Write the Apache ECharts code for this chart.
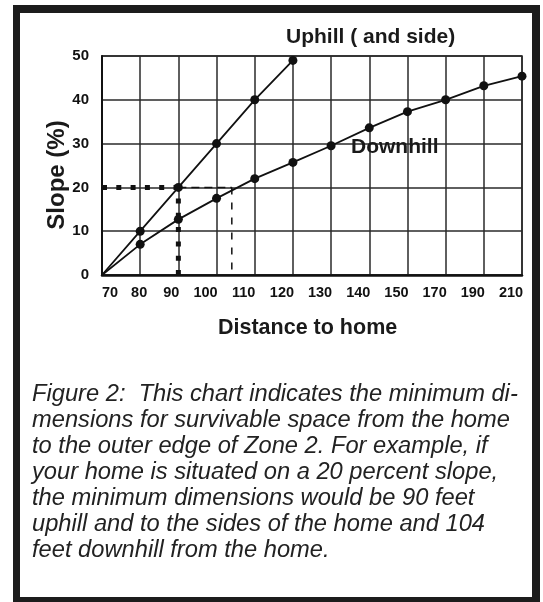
<!DOCTYPE html>
<html>
<head>
<meta charset="utf-8">
<script src="https://cdn.jsdelivr.net/npm/echarts@6/dist/echarts.min.js"></script>
<style>
	html, body {
		margin: 0;
		padding: 0;
		background: #fff;
	}

	#chart {
		position: absolute;
		left: 0;
		top: 0;
		width: 543px;
		height: 602px;
	}

	/*外框*/
	.frame {
		position: absolute;
		left: 13px;
		top: 5px;
		width: 527px;
		height: 597px;
		box-sizing: border-box;
		border-style: solid;
		border-color: #1c1c1c;
		border-width: 8px 8px 5px 7px;
	}

	.caption {
		position: absolute;
		left: 32px;
		top: 380px;
		font-family: "Liberation Sans", Arial, sans-serif;
		font-style: italic;
		font-size: 23.7px;
		line-height: 26px;
		color: #222;
		white-space: pre;
	}
</style>
</head>
<body>
	<div id="chart"></div>
	<div class="frame"></div>
	<div class="caption">Figure 2:  This chart indicates the minimum di-
mensions for survivable space from the home
to the outer edge of Zone 2. For example, if
your home is situated on a 20 percent slope,
the minimum dimensions would be 90 feet
uphill and to the sides of the home and 104
feet downhill from the home.</div>
	<script>
		// x轴刻度（间距相等，但数值不等）
		var distTicks = [70, 80, 90, 100, 110, 120, 130, 140, 150, 170, 190, 210];
		var slopeTicks = [0, 10, 20, 30, 40, 50];

		// 上坡（及两侧）
		var uphillDist = [70, 80, 90, 100, 110, 120];
		var uphillSlope = [0, 10, 20, 30, 40, 49];

		// 下坡
		var downhillDist = [70, 80, 90, 100, 110, 120, 130, 140, 150, 170, 190, 210];
		var downhillSlope = [0, 7, 12.7, 17.5, 22, 25.7, 29.5, 33.6, 37.3, 40, 43.2, 45.4];

		// 示例：20%坡度
		var exampleSlope = 20;
		var exampleUphill = 90;
		var exampleDownhill = 104;

		// 距离 -> 轴上的位置（刻度序号）
		function pos(d) {
			for (var i = 0; i < distTicks.length - 1; i++) {
				if (d <= distTicks[i + 1]) {
					return i + (d - distTicks[i]) / (distTicks[i + 1] - distTicks[i]);
				}
			}
			return distTicks.length - 1;
		}

		function pts(xs, ys) {
			return xs.map(function (d, i) {
				var item = { value: [pos(d), ys[i]] };
				if (d === distTicks[0]) item.symbol = 'none';
				return item;
			});
		}

		function guide(data, width, dash) {
			return {
				type: 'line',
				data: data,
				symbol: 'none',
				silent: true,
				z: 1,
				lineStyle: { color: '#111', width: width, type: dash, cap: 'butt' }
			};
		}

		// 原图刻度文字略偏左
		function tickLabel(v) {
			var i = Math.round(v);
			var key = i <= 1 ? 'a' : (i === 2 ? 'b' : 'c');
			return '{' + key + '|' + distTicks[i] + '}';
		}

		var boldFont = '"Liberation Sans", Arial, sans-serif';
		var chart = echarts.init(document.getElementById('chart'), null, { renderer: 'canvas' });
		var option = {
			animation: false,
			backgroundColor: 'transparent',
			grid: {
				left: 102, top: 56, width: 420, height: 219,
				show: true, borderColor: '#222', borderWidth: 1.5
			},
			xAxis: {
				type: 'value',
				min: 0,
				max: distTicks.length - 1,
				interval: 1,
				axisLine: { show: true, onZero: false, lineStyle: { color: '#111', width: 2.5 } },
				axisTick: { show: false },
				splitLine: { show: true, lineStyle: { color: '#2a2a2a', width: 1.5 } },
				axisLabel: {
					margin: 10,
					color: '#111',
					fontFamily: boldFont,
					fontWeight: 'bold',
					fontSize: 14.5,
					alignMinLabel: 'left',
					formatter: tickLabel,
					rich: {
						a: { fontFamily: boldFont, fontWeight: 'bold', fontSize: 14.5, color: '#111', padding: [0, 2, 0, 0] },
						b: { fontFamily: boldFont, fontWeight: 'bold', fontSize: 14.5, color: '#111', padding: [0, 14, 0, 0] },
						c: { fontFamily: boldFont, fontWeight: 'bold', fontSize: 14.5, color: '#111', padding: [0, 22, 0, 0] }
					}
				}
			},
			yAxis: {
				type: 'value',
				min: slopeTicks[0],
				max: slopeTicks[slopeTicks.length - 1],
				interval: 10,
				axisLine: { show: true, lineStyle: { color: '#111', width: 2 } },
				axisTick: { show: false },
				splitLine: { show: true, lineStyle: { color: '#2a2a2a', width: 1.5 } },
				axisLabel: {
					margin: 13,
					color: '#111',
					fontFamily: boldFont,
					fontWeight: 'bold',
					fontSize: 15
				}
			},
			series: [
				guide([[pos(distTicks[0]), exampleSlope], [pos(exampleUphill), exampleSlope]], 5, [5, 9.3]),
				guide([[pos(exampleUphill), 0], [pos(exampleUphill), exampleSlope]], 5, [5, 9.3]),
				guide([[pos(exampleUphill), exampleSlope], [pos(exampleDownhill), exampleSlope]], 1.5, [8, 5]),
				guide([[pos(exampleDownhill), exampleSlope], [pos(exampleDownhill), 0]], 1.5, [7, 8]),
				{
					name: 'Uphill',
					type: 'line',
					data: pts(uphillDist, uphillSlope),
					symbol: 'circle',
					symbolSize: 9,
					z: 3,
					itemStyle: { color: '#111' },
					lineStyle: { color: '#111', width: 1.8 }
				},
				{
					name: 'Downhill',
					type: 'line',
					data: pts(downhillDist, downhillSlope),
					symbol: 'circle',
					symbolSize: 9,
					z: 3,
					itemStyle: { color: '#111' },
					lineStyle: { color: '#111', width: 1.8 }
				}
			],
			graphic: [
				{
					type: 'text', left: 286, top: 27, z: 10,
					style: { text: 'Uphill ( and side)', fontFamily: boldFont, fontWeight: 'bold', fontSize: 21, fill: '#1a1a1a' }
				},
				{
					type: 'text', left: 351, top: 137, z: 10,
					style: { text: 'Downhill', fontFamily: boldFont, fontWeight: 'bold', fontSize: 21, fill: '#1a1a1a' }
				},
				{
					type: 'text', left: 218, top: 317, z: 10,
					style: { text: 'Distance to home', fontFamily: boldFont, fontWeight: 'bold', fontSize: 21.5, fill: '#1a1a1a' }
				},
				{
					type: 'text', x: 57, y: 175, rotation: Math.PI / 2, z: 10,
					style: {
						text: 'Slope (%)', fontFamily: boldFont, fontWeight: 'bold', fontSize: 24,
						fill: '#1a1a1a', align: 'center', verticalAlign: 'middle'
					}
				}
			]
		};
		chart.setOption(option);
	</script>
</body>
</html>
